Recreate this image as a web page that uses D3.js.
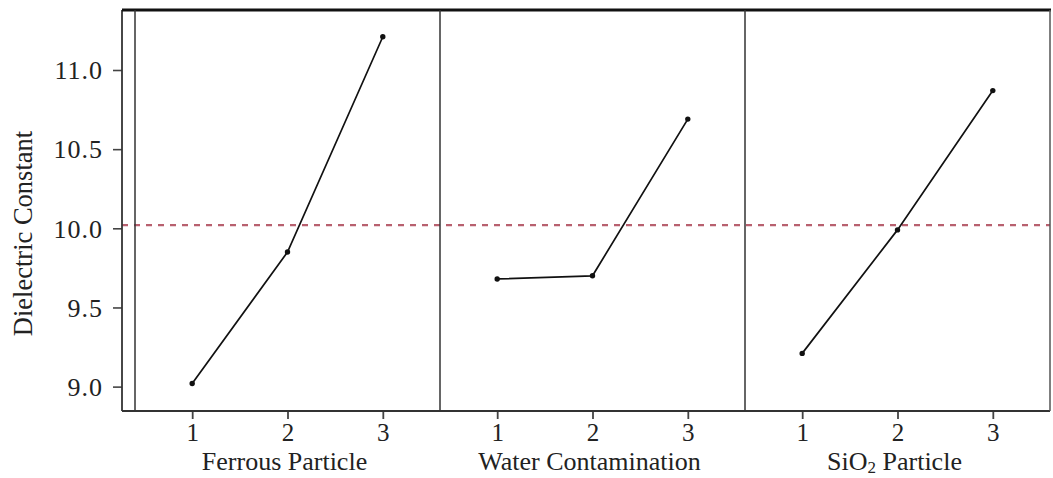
<!DOCTYPE html>
<html>
<head>
<meta charset="utf-8">
<script src="https://cdn.jsdelivr.net/npm/d3@7"></script>
<style>
  html, body { margin: 0; padding: 0; background: #ffffff; }
  svg { display: block; }
  text { font-family: "Liberation Serif", "Times New Roman", serif; fill: #222; }
</style>
</head>
<body>
<svg id="chart" width="1053" height="478"></svg>
<script>
// Main effects of three factors on the dielectric constant
const factors = ["Ferrous Particle", "Water Contamination", "SiO2 Particle"];
const levels = [1, 2, 3];
const ferrousMeans = [9.02, 9.85, 11.21];
const waterMeans = [9.68, 9.70, 10.69];
const sio2Means = [9.21, 9.99, 10.87];
const grandMean = 10.02;
const yTicks = [9.0, 9.5, 10.0, 10.5, 11.0];
const yTitle = "Dielectric Constant";

const seriesByFactor = [ferrousMeans, waterMeans, sio2Means];

const svg = d3.select("#chart");
const frame = { left: 122, inner: 135, right: 1050, top: 10, bottom: 411 };

const y = d3.scaleLinear().domain([8.846, 11.379]).range([frame.bottom, frame.top]);
const panel = d3.scaleBand().domain(factors).range([frame.inner, frame.right]).padding(0);

// y axis with ticks to the left of the frame
const yAxis = d3.axisLeft(y).tickValues(yTicks).tickFormat(d3.format(".1f")).tickSize(9).tickPadding(10);
const gy = svg.append("g").attr("transform", `translate(${frame.left},0)`).call(yAxis);
gy.select(".domain").remove();
gy.selectAll(".tick line").attr("stroke", "#444").attr("stroke-width", 1.6);
gy.selectAll(".tick text")
  .attr("font-size", 26)
  .attr("letter-spacing", 1)
  .attr("fill", "#333")
  .attr("dy", "0.34em");

// axis title
svg.append("text")
  .attr("transform", `translate(32,${(130 + 337) / 2}) rotate(-90)`)
  .attr("text-anchor", "middle")
  .attr("font-size", 26.5)
  .attr("fill", "#333")
  .text(yTitle);

// grand mean reference line
svg.append("line")
  .attr("x1", frame.left).attr("x2", frame.right)
  .attr("y1", y(grandMean)).attr("y2", y(grandMean))
  .attr("stroke", "#b8606f")
  .attr("stroke-width", 2.4)
  .attr("stroke-dasharray", "6,6");

// one panel per factor
factors.forEach((name, i) => {
  const x0 = panel(name);
  const x = d3.scaleLinear().domain([0.4, 3.6]).range([x0, x0 + panel.bandwidth()]);
  const g = svg.append("g");

  const xAxis = d3.axisBottom(x).tickValues(levels).tickFormat(d3.format("d")).tickSize(8).tickPadding(4);
  const gx = g.append("g").attr("transform", `translate(0,${frame.bottom})`).call(xAxis);
  gx.select(".domain").remove();
  gx.selectAll(".tick line").attr("stroke", "#444").attr("stroke-width", 1.8);
  gx.selectAll(".tick text").attr("font-size", 25).attr("fill", "#333");

  const title = g.append("text")
    .attr("x", x0 + panel.bandwidth() / 2 - 3)
    .attr("y", 470)
    .attr("text-anchor", "middle")
    .attr("font-size", 26)
    .attr("fill", "#333");
  if (name === "SiO2 Particle") {
    title.append("tspan").text("SiO");
    title.append("tspan").attr("font-size", 17).attr("dy", 3).text("2");
    title.append("tspan").attr("dy", -3).text(" Particle");
  } else {
    title.text(name);
  }

  const vals = seriesByFactor[i];
  const pts = levels.map((lv, k) => [x(lv), y(vals[k])]);
  g.append("path")
    .attr("d", d3.line()(pts))
    .attr("fill", "none")
    .attr("stroke", "#111")
    .attr("stroke-width", 1.7);
  g.selectAll("circle").data(pts).join("circle")
    .attr("cx", d => d[0]).attr("cy", d => d[1]).attr("r", 2.7)
    .attr("fill", "#111");
});

// frame and panel dividers
const frameG = svg.append("g").attr("stroke", "#333").attr("fill", "none");
frameG.append("line").attr("x1", frame.left).attr("x2", frame.left).attr("y1", frame.top).attr("y2", frame.bottom).attr("stroke-width", 1.8);
frameG.append("line").attr("x1", frame.left).attr("x2", frame.right).attr("y1", frame.bottom).attr("y2", frame.bottom).attr("stroke-width", 2);
frameG.append("line").attr("x1", frame.left).attr("x2", frame.right + 1).attr("y1", frame.top).attr("y2", frame.top).attr("stroke-width", 2.8).attr("stroke", "#111");
frameG.append("line").attr("x1", frame.right).attr("x2", frame.right).attr("y1", frame.top).attr("y2", frame.bottom).attr("stroke-width", 1.5).attr("stroke", "#555");
[frame.inner, panel(factors[1]), panel(factors[2])].forEach(px => {
  frameG.append("line").attr("x1", px).attr("x2", px).attr("y1", frame.top).attr("y2", frame.bottom).attr("stroke-width", 1.5);
});
</script>
</body>
</html>
